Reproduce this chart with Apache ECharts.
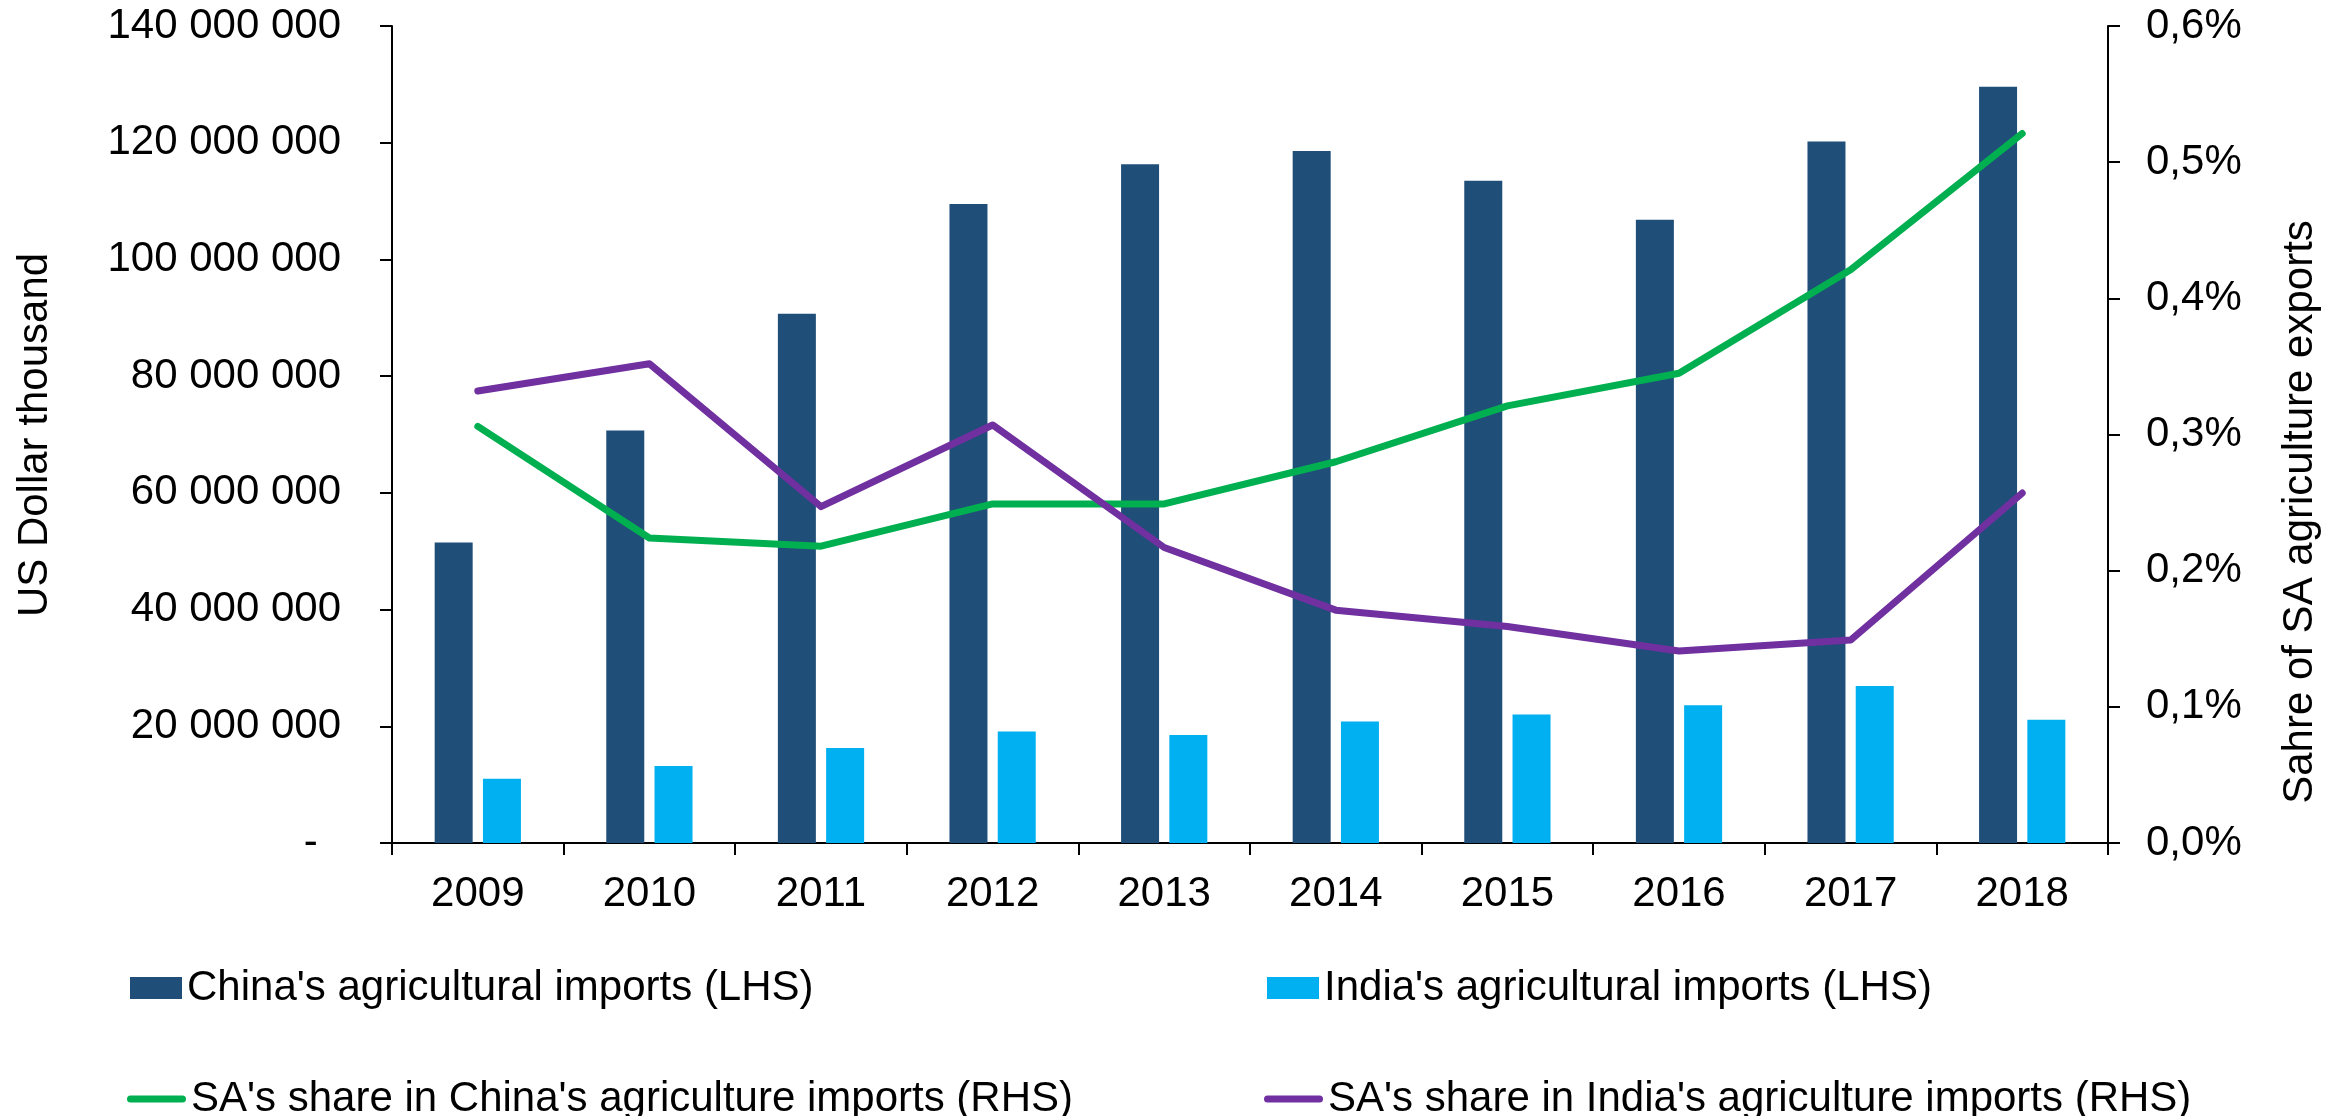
<!DOCTYPE html>
<html>
<head>
<meta charset="utf-8">
<script src="https://cdn.jsdelivr.net/npm/echarts@6/dist/echarts.min.js"></script>
<style>
  html, body { margin: 0; padding: 0; background: #fff; }
  #main { width: 2346px; height: 1116px; }
</style>
</head>
<body>
<div id="main"></div>
<script>
// data
const years = ['2009', '2010', '2011', '2012', '2013', '2014', '2015', '2016', '2017', '2018'];
// US Dollar thousand
const chinaImports = [51500000, 70700000, 90700000, 109500000, 116300000, 118600000, 113500000, 106800000, 120200000, 129600000];
const indiaImports = [11000000, 13200000, 16300000, 19100000, 18500000, 20800000, 22000000, 23600000, 26900000, 21100000];
// share in percent
const chinaShare = [0.306, 0.224, 0.218, 0.249, 0.249, 0.280, 0.321, 0.345, 0.421, 0.521];
const indiaShare = [0.332, 0.352, 0.247, 0.307, 0.217, 0.171, 0.159, 0.141, 0.149, 0.257];

// tick labels
const leftTickLabels = ['-  ', '20 000 000', '40 000 000', '60 000 000', '80 000 000', '100 000 000', '120 000 000', '140 000 000'];
const rightTickLabels = ['0,0%', '0,1%', '0,2%', '0,3%', '0,4%', '0,5%', '0,6%'];

const names = [
  "China's agricultural imports (LHS)",
  "India's agricultural imports (LHS)",
  "SA's share in China's agriculture imports (RHS)",
  "SA's share in India's agriculture imports (RHS)"
];
const colors = ['#1F4E79', '#00B0F0', '#00B050', '#7030A0'];

const FONT = "'Liberation Sans', Arial, sans-serif";
const axisLine = { show: true, lineStyle: { color: '#000', width: 2 } };
const axisTick = { show: true, length: 12, lineStyle: { color: '#000', width: 2 } };

// line legend icon: thick stroke with round ends
const LINE_ICON = 'path://M3.5,0 L55.5,0 A3.5,3.5 0 0 1 55.5,7 L3.5,7 A3.5,3.5 0 0 1 3.5,0 Z';

function barLegend(name, left, top) {
  return {
    data: [name],
    left: left,
    top: top,
    padding: 0,
    icon: 'rect',
    itemWidth: 52,
    itemHeight: 22,
    selectedMode: false,
    textStyle: { fontSize: 42, color: '#000', fontFamily: FONT }
  };
}

function lineLegend(name, left, top) {
  return {
    data: [name],
    left: left,
    top: top,
    padding: 0,
    icon: LINE_ICON,
    itemWidth: 59,
    itemHeight: 7,
    selectedMode: false,
    textStyle: { fontSize: 42, color: '#000', fontFamily: FONT }
  };
}

const chart = echarts.init(document.getElementById('main'), null, { renderer: 'canvas' });

const option = {
  backgroundColor: '#fff',
  animation: false,
  textStyle: { fontFamily: FONT },
  grid: { left: 392, right: 238, top: 26, bottom: 273, containLabel: false, outerBoundsMode: 'none' },
  legend: [
    barLegend(names[0], 130, 967),
    barLegend(names[1], 1267, 967),
    lineLegend(names[2], 127, 1078),
    lineLegend(names[3], 1264, 1078)
  ],
  xAxis: {
    type: 'category',
    data: years,
    boundaryGap: true,
    axisLine: axisLine,
    axisTick: axisTick,
    axisLabel: { fontSize: 42, color: '#000', margin: 30, fontFamily: FONT },
    splitLine: { show: false }
  },
  yAxis: [
    {
      type: 'value',
      min: 0,
      max: 140000000,
      interval: 20000000,
      axisLine: axisLine,
      axisTick: axisTick,
      splitLine: { show: false },
      axisLabel: {
        fontSize: 42, color: '#000', margin: 51, fontFamily: FONT,
        formatter: v => leftTickLabels[Math.round(v / 20000000)]
      }
    },
    {
      type: 'value',
      position: 'right',
      min: 0,
      max: 0.6,
      interval: 0.1,
      axisLine: axisLine,
      axisTick: axisTick,
      splitLine: { show: false },
      axisLabel: {
        fontSize: 42, color: '#000', margin: 38, fontFamily: FONT,
        formatter: v => rightTickLabels[Math.round(v / 0.1)]
      }
    }
  ],
  graphic: [
    {
      type: 'text', x: 35, y: 435, rotation: Math.PI / 2,
      style: { text: 'US Dollar thousand', fontSize: 42, fontFamily: FONT, fill: '#000', align: 'center', verticalAlign: 'middle' }
    },
    {
      type: 'text', x: 2300, y: 512, rotation: Math.PI / 2,
      style: { text: 'Sahre of SA agriculture exports', fontSize: 42, fontFamily: FONT, fill: '#000', align: 'center', verticalAlign: 'middle' }
    }
  ],
  series: [
    {
      name: names[0], type: 'bar', data: chinaImports,
      barWidth: 38, barGap: '27%',
      itemStyle: { color: colors[0] }
    },
    {
      name: names[1], type: 'bar', data: indiaImports,
      barWidth: 38, barGap: '27%',
      itemStyle: { color: colors[1] }
    },
    {
      name: names[2], type: 'line', yAxisIndex: 1, data: chinaShare,
      symbol: 'none', showSymbol: false,
      itemStyle: { color: colors[2] },
      lineStyle: { color: colors[2], width: 7, cap: 'round', join: 'round' }
    },
    {
      name: names[3], type: 'line', yAxisIndex: 1, data: indiaShare,
      symbol: 'none', showSymbol: false,
      itemStyle: { color: colors[3] },
      lineStyle: { color: colors[3], width: 7, cap: 'round', join: 'round' }
    }
  ]
};

chart.setOption(option);
</script>
</body>
</html>
